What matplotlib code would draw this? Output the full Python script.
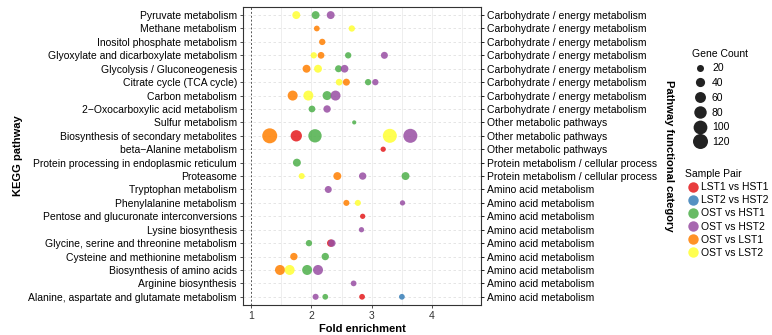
import matplotlib
matplotlib.use("Agg")
import matplotlib.pyplot as plt
from matplotlib.lines import Line2D
import numpy as np

plt.rcParams['font.family'] = ['Liberation Sans', 'DejaVu Sans']

pathways = [
    "Pyruvate metabolism", "Methane metabolism", "Inositol phosphate metabolism",
    "Glyoxylate and dicarboxylate metabolism", "Glycolysis / Gluconeogenesis",
    "Citrate cycle (TCA cycle)", "Carbon metabolism", "2\u2212Oxocarboxylic acid metabolism",
    "Sulfur metabolism", "Biosynthesis of secondary metabolites", "beta\u2212Alanine metabolism",
    "Protein processing in endoplasmic reticulum", "Proteasome", "Tryptophan metabolism",
    "Phenylalanine metabolism", "Pentose and glucuronate interconversions", "Lysine biosynthesis",
    "Glycine, serine and threonine metabolism", "Cysteine and methionine metabolism",
    "Biosynthesis of amino acids", "Arginine biosynthesis",
    "Alanine, aspartate and glutamate metabolism",
]
categories = (["Carbohydrate / energy metabolism"] * 8 + ["Other metabolic pathways"] * 3
              + ["Protein metabolism / cellular process"] * 2 + ["Amino acid metabolism"] * 9)

pairs = ["LST1 vs HST1", "LST2 vs HST2", "OST vs HST1", "OST vs HST2", "OST vs LST1", "OST vs LST2"]
pair_colors = ["#E41A1C", "#377EB8", "#4DAF4A", "#984EA3", "#FF7F00", "#FFFF33"]

# (pathway index, pair, fold enrichment, gene count)
pt_pathway = [0, 0, 0, 1, 1, 2, 3, 3, 3, 3, 4, 4, 4, 4, 5, 5, 5, 5, 6, 6, 6, 6, 7, 7, 8,
              9, 9, 9, 9, 9, 10, 11, 12, 12, 12, 12, 13, 14, 14, 14, 15, 16, 17, 17, 17,
              18, 18, 19, 19, 19, 19, 20, 21, 21, 21, 21]
pt_pair = ["OST vs LST2", "OST vs HST1", "OST vs HST2",
           "OST vs LST1", "OST vs LST2",
           "OST vs LST1",
           "OST vs LST2", "OST vs LST1", "OST vs HST1", "OST vs HST2",
           "OST vs LST1", "OST vs LST2", "OST vs HST1", "OST vs HST2",
           "OST vs LST2", "OST vs LST1", "OST vs HST1", "OST vs HST2",
           "OST vs LST1", "OST vs LST2", "OST vs HST1", "OST vs HST2",
           "OST vs HST1", "OST vs HST2",
           "OST vs HST1",
           "OST vs LST1", "LST1 vs HST1", "OST vs HST1", "OST vs LST2", "OST vs HST2",
           "LST1 vs HST1",
           "OST vs HST1",
           "OST vs LST2", "OST vs LST1", "OST vs HST2", "OST vs HST1",
           "OST vs HST2",
           "OST vs LST1", "OST vs LST2", "OST vs HST2",
           "LST1 vs HST1",
           "OST vs HST2",
           "OST vs HST1", "LST1 vs HST1", "OST vs HST2",
           "OST vs LST1", "OST vs HST1",
           "OST vs LST1", "OST vs LST2", "OST vs HST1", "OST vs HST2",
           "OST vs HST2",
           "OST vs HST2", "OST vs HST1", "LST1 vs HST1", "LST2 vs HST2"]
pt_fold = [1.75, 2.07, 2.32,
           2.09, 2.67,
           2.18,
           2.04, 2.16, 2.61, 3.21,
           1.92, 2.11, 2.45, 2.55,
           2.46, 2.58, 2.94, 3.06,
           1.69, 1.95, 2.26, 2.40,
           2.01, 2.26,
           2.71,
           1.31, 1.75, 2.06, 3.30, 3.64,
           3.19,
           1.76,
           1.84, 2.43, 2.85, 3.56,
           2.28,
           2.58, 2.77, 3.51,
           2.85,
           2.83,
           1.96, 2.32, 2.34,
           1.71, 2.23,
           1.48, 1.64, 1.93, 2.11,
           2.70,
           2.07, 2.23, 2.84, 3.50]
pt_count = [28, 28, 28,
            11, 15,
            15,
            15, 18, 15, 20,
            28, 28, 20, 26,
            18, 20, 15, 15,
            49, 49, 38, 49,
            18, 23,
            2,
            120, 65, 93, 104, 104,
            8,
            28,
            13, 28, 23, 28,
            20,
            13, 13, 8,
            8,
            8,
            15, 23, 23,
            23, 23,
            49, 49, 49, 49,
            11,
            13, 11, 11, 11]

size_breaks = [20, 40, 60, 80, 100, 120]


def msize(c):
    c = np.asarray(c, dtype=float)
    d2 = 13.8 + 1.76 * c          # diameter^2 in px
    return d2 / (1.389 ** 2)      # pt^2


fig = plt.figure(figsize=(7.72, 3.35), dpi=100)
ax = fig.add_axes([0.315, 0.09, 0.308, 0.889])

n = len(pathways)
cmap = dict(zip(pairs, pair_colors))

# grid
for xv in [1.5, 2, 2.5, 3, 3.5, 4, 4.5]:
    ax.axvline(xv, color="#ebebeb", lw=0.6, zorder=0)
for i in range(n):
    ax.axhline(i, color="#e0e0e0", lw=0.6, ls=(0, (3, 3)), zorder=0)
ax.axvline(1, color="#555555", lw=0.7, ls=(0, (2, 2)), zorder=1)

xs = np.array(pt_fold)
ys = np.array([n - 1 - i for i in pt_pathway])
cols = [cmap[p] for p in pt_pair]
ax.scatter(xs, ys, s=msize(pt_count), c=cols, alpha=0.85, edgecolors="none", zorder=3)

ax.set_xlim(0.87, 4.81)
ax.set_ylim(-0.6, n - 0.4)
ax.set_xticks([1, 2, 3, 4])
ax.set_xticklabels(["1", "2", "3", "4"], fontsize=7.5, color="#333333")
ax.set_yticks(range(n))
ax.set_yticklabels(pathways[::-1], fontsize=7.5, color="black")
ax.tick_params(axis="both", length=2.5, width=0.6, pad=2, colors="#333333")
ax.tick_params(axis="y", labelcolor="black")
ax.set_xlabel("Fold enrichment", fontsize=8, fontweight="bold", labelpad=2)
ax.set_ylabel("KEGG pathway", fontsize=8, fontweight="bold", labelpad=4)
for sp in ax.spines.values():
    sp.set_color("#333333")
    sp.set_linewidth(0.8)

ax2 = ax.twinx()
ax2.set_ylim(ax.get_ylim())
ax2.set_yticks(range(n))
ax2.set_yticklabels(categories[::-1], fontsize=7.5)
ax2.tick_params(axis="y", length=2.5, width=0.6, pad=2)
ax2.set_ylabel("Pathway functional category", fontsize=8, fontweight="bold",
               rotation=-90, labelpad=12)
for sp in ax2.spines.values():
    sp.set_visible(False)

# legends
size_handles = [Line2D([], [], ls="none", marker="o", markersize=np.sqrt(msize(b)),
                       markerfacecolor="#222222", markeredgecolor="none") for b in size_breaks]
leg1 = fig.legend(size_handles, [str(b) for b in size_breaks], title="Gene Count",
                  loc="upper left", bbox_to_anchor=(0.8896, 0.87), frameon=False,
                  fontsize=7.5, title_fontsize=7.5, handletextpad=0.32, labelspacing=0.45,
                  borderpad=0, handlelength=1.6)
leg1._legend_box.align = "left"

col_handles = [Line2D([], [], ls="none", marker="o", markersize=7.5,
                      markerfacecolor=c, markeredgecolor="none", alpha=0.85) for c in pair_colors]
leg2 = fig.legend(col_handles, pairs, title="Sample Pair", loc="upper left",
                  bbox_to_anchor=(0.8806, 0.511), frameon=False, fontsize=7.5,
                  title_fontsize=7.5, handletextpad=0.05, labelspacing=0.3,
                  borderpad=0, handlelength=1.45)
leg2._legend_box.align = "left"

fig.savefig("out.png", dpi=100)
